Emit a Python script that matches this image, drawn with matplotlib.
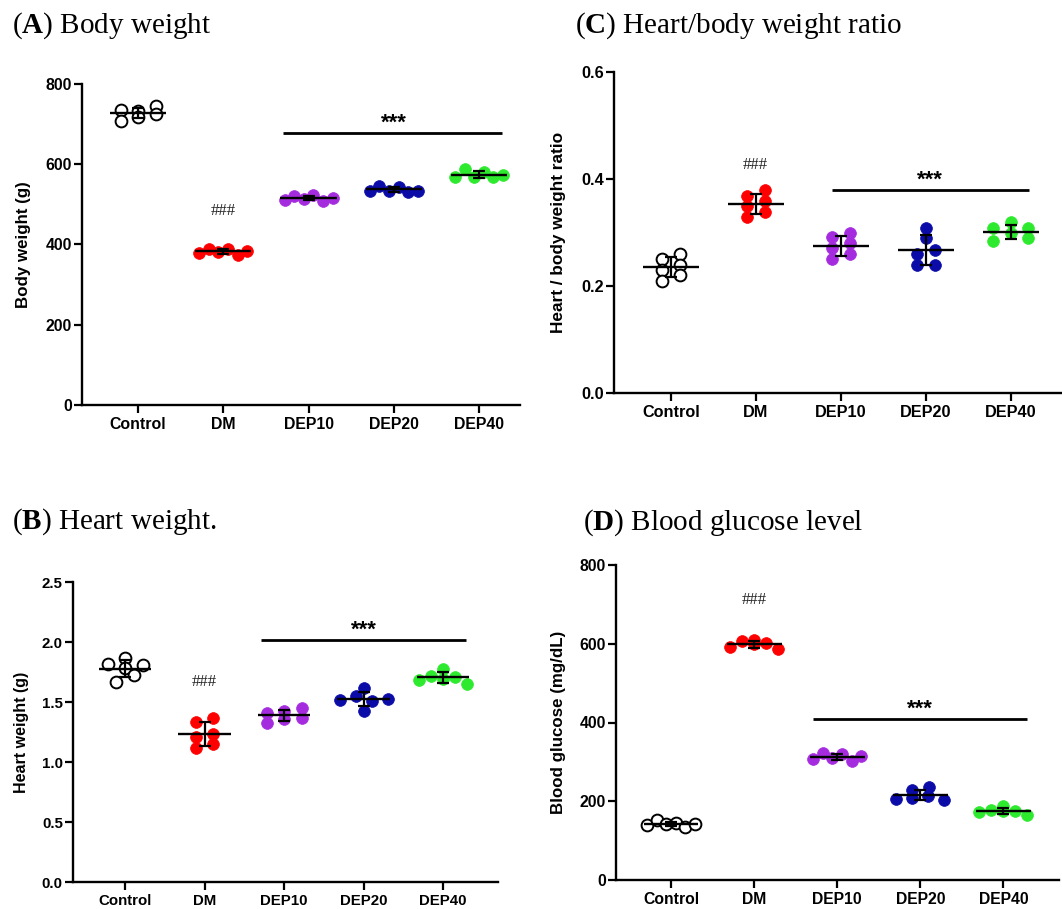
import numpy as np
import matplotlib
matplotlib.use("Agg")
import matplotlib.pyplot as plt

plt.rcParams["mathtext.fontset"] = "custom"
plt.rcParams["mathtext.rm"] = "Liberation Serif"
plt.rcParams["mathtext.bf"] = "Liberation Serif:bold"

# ---------------- data ----------------
groups = ["Control", "DM", "DEP10", "DEP20", "DEP40"]

body_weight = [
    [735, 709, 733, 745, 718.5, 725],
    [378, 390, 382, 390, 374, 384],
    [511, 521, 514, 522.5, 507.5, 517],
    [534, 547, 534, 542.5, 532, 534],
    [567, 587, 569, 581.5, 567, 573],
]
heart_weight = [
    [1.819, 1.667, 1.869, 1.783, 1.808, 1.725],
    [1.333, 1.369, 1.208, 1.231, 1.119, 1.153],
    [1.411, 1.328, 1.425, 1.356, 1.45, 1.369],
    [1.519, 1.547, 1.428, 1.508, 1.617, 1.525],
    [1.681, 1.718, 1.694, 1.778, 1.708, 1.65],
]
hb_ratio = [
    [0.250, 0.229, 0.210, 0.260, 0.239, 0.221],
    [0.368, 0.349, 0.329, 0.379, 0.359, 0.339],
    [0.2922, 0.2705, 0.250, 0.2997, 0.2798, 0.260],
    [0.309, 0.289, 0.260, 0.2674, 0.2394, 0.2394],
    [0.309, 0.284, 0.319, 0.2995, 0.309, 0.2891],
]
glucose = [
    [139.7, 152.4, 141.4, 145.6, 135.4, 142.2],
    [590.9, 607, 599.4, 601, 609.5, 585.8],
    [306.5, 322.5, 309, 320, 301.5, 315],
    [206.6, 227.5, 207.4, 237, 213.3, 203.2],
    [173.5, 177.8, 176.1, 176.1, 188.8, 164.2],
]

face_colors = ["white", "#FF0000", "#A52BDF", "#0B0BA8", "#2EEA2E"]
edge_colors = ["black", "#FF0000", "#A52BDF", "#0B0BA8", "#2EEA2E"]

W, H = 1062, 909
fig = plt.figure(figsize=(W / 100, H / 100), dpi=100)


def swarm_offsets(vals, ypx, xpx, d_px=9.0, s_max=17.5, w_max=48.0):
    vals = np.asarray(vals, dtype=float)
    order = np.argsort(vals, kind="stable")
    rows, cur, start = [], [order[0]], vals[order[0]]
    for i in order[1:]:
        if (vals[i] - start) * ypx < d_px:
            cur.append(i)
        else:
            rows.append(cur)
            cur, start = [i], vals[i]
    rows.append(cur)
    offs = np.zeros(len(vals))
    for r in rows:
        r = sorted(r)
        n = len(r)
        if n > 1:
            s = min(s_max, w_max / (n - 1))
            for k, i in enumerate(r):
                offs[i] = (k - (n - 1) / 2) * s / xpx
    return offs


def panel(px_box, xlim, ylim, yticks, yticklabels, data, ylabel, label_x,
          tick_fs, ylab_fs, sig_line, sig_star, sig_hash):
    left, right, top, bottom = px_box
    ax = fig.add_axes([left / W, 1 - bottom / H, (right - left) / W, (bottom - top) / H])
    ax.set_xlim(*xlim)
    ax.set_ylim(*ylim)
    xpx = (right - left) / (xlim[1] - xlim[0])
    ypx = (bottom - top) / (ylim[1] - ylim[0])
    for sp in ["top", "right"]:
        ax.spines[sp].set_visible(False)
    for sp in ["left", "bottom"]:
        ax.spines[sp].set_linewidth(1.7)
    ax.tick_params(axis="both", length=5.8, width=1.6, direction="out")
    ax.tick_params(axis="y", pad=1.5)
    ax.tick_params(axis="x", pad=3)
    ax.set_xticks(range(len(groups)))
    ax.set_xticklabels(groups, fontsize=tick_fs, fontweight="bold", family="Liberation Sans")
    ax.set_yticks(yticks)
    ax.set_yticklabels(yticklabels, fontsize=tick_fs, fontweight="bold", family="Liberation Sans")
    ax.set_ylabel(ylabel, fontsize=ylab_fs, fontweight="bold", family="Liberation Sans")
    ax.yaxis.set_label_coords(label_x, 0.5)

    for gi, vals in enumerate(data):
        vals = np.asarray(vals, dtype=float)
        offs = swarm_offsets(vals, ypx, xpx)
        ax.scatter(gi + offs, vals, s=72, facecolor=face_colors[gi],
                   edgecolor=edge_colors[gi], linewidth=1.4 if gi == 0 else 0.5,
                   zorder=3, clip_on=False)
        m = vals.mean()
        sd = vals.std(ddof=1)
        ax.hlines(m, gi - 0.33, gi + 0.33, color="black", lw=1.7, zorder=4)
        ax.errorbar(gi, m, yerr=sd, fmt="none", ecolor="black", elinewidth=1.6,
                    capsize=4.3, capthick=1.6, zorder=4)

    x0, x1, yl = sig_line
    ax.hlines(yl, x0, x1, color="black", lw=2.0, zorder=4)
    ax.text(sig_star[0], sig_star[1], "***", ha="center", va="center",
            fontsize=16, fontweight="bold", family="Liberation Sans")
    ax.text(sig_hash[0], sig_hash[1], "###", ha="center", va="center",
            fontsize=12, family="Liberation Serif", color="#222222")
    return ax


# (A) Body weight
panel((82, 520, 84, 405), (-0.657, 4.48), (0, 800), [0, 200, 400, 600, 800],
      ["0", "200", "400", "600", "800"], body_weight, "Body weight (g)", -0.116,
      11.4, 12.2, (1.70, 4.27, 678.7), (3.0, 703), (1.0, 484))

# (C) Heart/body weight ratio
panel((614, 1062, 72, 393), (-0.67, 4.6), (0, 0.6), [0, 0.2, 0.4, 0.6],
      ["0.0", "0.2", "0.4", "0.6"], hb_ratio, "Heart / body weight ratio", -0.107,
      11.7, 12.4, (1.89, 4.21, 0.379), (3.05, 0.398), (0.99, 0.426))

# (B) Heart weight
panel((73, 498, 582, 882), (-0.654, 4.69), (0, 2.5), [0, 0.5, 1.0, 1.5, 2.0, 2.5],
      ["0.0", "0.5", "1.0", "1.5", "2.0", "2.5"], heart_weight, "Heart weight (g)", -0.1035,
      10.8, 11.5, (1.71, 4.29, 2.019), (3.0, 2.095), (1.0, 1.667))

# (D) Blood glucose level
panel((616, 1059, 565, 880), (-0.663, 4.67), (0, 800), [0, 200, 400, 600, 800],
      ["0", "200", "400", "600", "800"], glucose, "Blood glucose (mg/dL)", -0.113,
      11.3, 12.2, (1.71, 4.28, 408.9), (3.0, 435), (1.0, 711))

title_kw = dict(fontsize=21, family="Liberation Serif", va="baseline", ha="left")
fig.text(12 / W, 1 - 33 / H, r"($\mathbf{A}$) Body weight", **title_kw)
fig.text(575 / W, 1 - 33 / H, r"($\mathbf{C}$) Heart/body weight ratio", **title_kw)
fig.text(12 / W, 1 - 529 / H, r"($\mathbf{B}$) Heart weight.", **title_kw)
fig.text(583 / W, 1 - 530 / H, r"($\mathbf{D}$) Blood glucose level", **title_kw)

fig.savefig("out.png", dpi=100)
